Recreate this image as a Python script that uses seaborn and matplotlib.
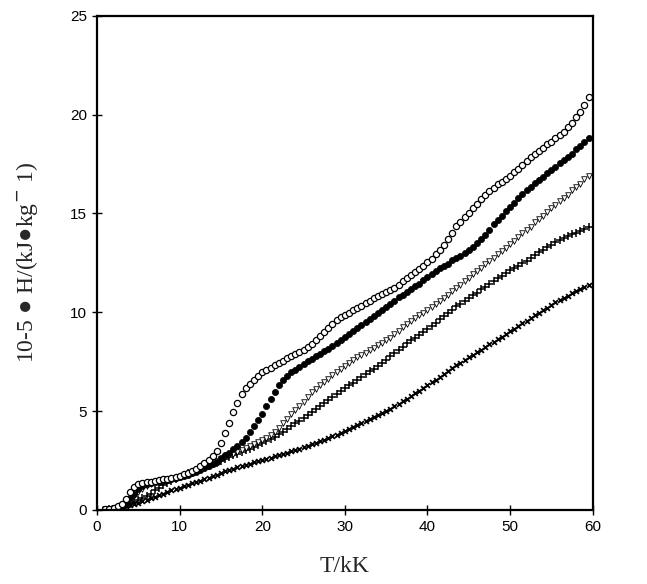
import numpy as np
import pandas as pd
import seaborn as sns
import matplotlib
matplotlib.use('Agg')
import matplotlib.pyplot as plt

# temperature grid (kK), 0.5 kK steps
T = np.arange(1.0, 60.0, 0.5)

# open circles
h_open = [0.03, 0.05, 0.1, 0.2, 0.3, 0.55, 0.9, 1.15, 1.3, 1.35,
          1.4, 1.42, 1.45, 1.5, 1.55, 1.58, 1.62, 1.68, 1.73, 1.8,
          1.88, 1.96, 2.05, 2.2, 2.35, 2.5, 2.7, 3.0, 3.4, 3.9,
          4.4, 4.95, 5.4, 5.85, 6.15, 6.35, 6.55, 6.75, 6.95, 7.1,
          7.2, 7.32, 7.42, 7.55, 7.68, 7.8, 7.9, 8.0, 8.1, 8.25,
          8.4, 8.6, 8.8, 9.0, 9.2, 9.4, 9.6, 9.75, 9.85, 9.95,
          10.1, 10.2, 10.3, 10.45, 10.55, 10.7, 10.8, 10.9, 11.0, 11.13,
          11.25, 11.38, 11.56, 11.73, 11.86, 12.04, 12.21, 12.34, 12.52, 12.69,
          12.92, 13.15, 13.42, 13.7, 14.02, 14.35, 14.58, 14.8, 15.03, 15.26,
          15.48, 15.71, 15.94, 16.11, 16.29, 16.47, 16.59, 16.72, 16.9, 17.07,
          17.25, 17.43, 17.65, 17.83, 18.01, 18.18, 18.31, 18.49, 18.61, 18.79,
          18.96, 19.14, 19.37, 19.59, 19.87, 20.15, 20.47, 20.9]

# filled circles
h_filled = [0.02, 0.04, 0.08, 0.15, 0.25, 0.4, 0.6, 0.8, 1.05, 1.2,
            1.3, 1.35, 1.4, 1.43, 1.46, 1.5, 1.55, 1.6, 1.65, 1.7,
            1.77, 1.85, 1.93, 2.0, 2.1, 2.2, 2.3, 2.42, 2.6, 2.75,
            2.9, 3.1, 3.25, 3.45, 3.65, 3.95, 4.25, 4.55, 4.85, 5.25,
            5.6, 5.95, 6.3, 6.55, 6.75, 6.95, 7.1, 7.25, 7.4, 7.55,
            7.65, 7.8, 7.9, 8.05, 8.15, 8.3, 8.45, 8.6, 8.75, 8.9,
            9.05, 9.2, 9.35, 9.5, 9.65, 9.8, 9.95, 10.1, 10.25, 10.42,
            10.59, 10.75, 10.87, 11.04, 11.15, 11.32, 11.44, 11.61, 11.77, 11.94,
            12.06, 12.23, 12.34, 12.46, 12.63, 12.75, 12.86, 12.98, 13.15, 13.31,
            13.48, 13.7, 13.92, 14.18, 14.45, 14.67, 14.89, 15.1, 15.32, 15.54,
            15.76, 15.97, 16.19, 16.36, 16.52, 16.69, 16.86, 17.03, 17.19, 17.36,
            17.53, 17.7, 17.86, 18.03, 18.25, 18.42, 18.63, 18.8]

# open triangles
h_tri = [0.02, 0.04, 0.07, 0.12, 0.2, 0.32, 0.5, 0.7, 0.9, 1.05,
         1.2, 1.3, 1.4, 1.47, 1.52, 1.55, 1.58, 1.62, 1.67, 1.73,
         1.8, 1.88, 1.95, 2.05, 2.15, 2.25, 2.35, 2.45, 2.55, 2.65,
         2.75, 2.85, 2.95, 3.05, 3.15, 3.25, 3.35, 3.45, 3.55, 3.65,
         3.8, 3.95, 4.15, 4.4, 4.6, 4.85, 5.05, 5.25, 5.45, 5.7,
         5.95, 6.1, 6.3, 6.45, 6.6, 6.8, 6.95, 7.15, 7.3, 7.45,
         7.6, 7.72, 7.85, 7.95, 8.08, 8.2, 8.32, 8.45, 8.58, 8.72,
         8.89, 9.06, 9.23, 9.4, 9.54, 9.69, 9.84, 9.98, 10.12, 10.26,
         10.41, 10.55, 10.72, 10.89, 11.06, 11.23, 11.4, 11.57, 11.74, 11.91,
         12.08, 12.25, 12.42, 12.59, 12.75, 12.92, 13.09, 13.26, 13.43, 13.6,
         13.82, 13.99, 14.16, 14.33, 14.55, 14.72, 14.89, 15.06, 15.28, 15.45,
         15.61, 15.78, 15.95, 16.17, 16.34, 16.51, 16.73, 16.9]

# plus signs
h_plus = [0.01, 0.03, 0.05, 0.08, 0.13, 0.2, 0.3, 0.4, 0.5, 0.6,
          0.7, 0.82, 0.98, 1.12, 1.25, 1.35, 1.45, 1.55, 1.65, 1.75,
          1.85, 1.92, 2.0, 2.08, 2.15, 2.22, 2.3, 2.38, 2.48, 2.57,
          2.65, 2.75, 2.85, 2.93, 3.02, 3.1, 3.18, 3.27, 3.36, 3.47,
          3.58, 3.7, 3.82, 3.95, 4.08, 4.22, 4.37, 4.52, 4.67, 4.82,
          4.97, 5.12, 5.27, 5.42, 5.57, 5.72, 5.87, 6.02, 6.16, 6.3,
          6.43, 6.56, 6.7, 6.85, 7.0, 7.15, 7.3, 7.45, 7.6, 7.76,
          7.93, 8.09, 8.26, 8.42, 8.57, 8.7, 8.84, 8.98, 9.14, 9.31,
          9.47, 9.64, 9.8, 9.96, 10.13, 10.29, 10.44, 10.57, 10.71, 10.85,
          10.99, 11.15, 11.29, 11.44, 11.57, 11.72, 11.85, 11.99, 12.13, 12.24,
          12.36, 12.47, 12.61, 12.75, 12.88, 13.03, 13.14, 13.28, 13.4, 13.54,
          13.65, 13.76, 13.85, 13.94, 14.03, 14.12, 14.21, 14.3]

# lowest curve
h_low = [0.02, 0.04, 0.07, 0.1, 0.15, 0.2, 0.25, 0.3, 0.36, 0.43,
         0.5, 0.58, 0.66, 0.74, 0.82, 0.9, 0.98, 1.05, 1.12, 1.2,
         1.27, 1.34, 1.41, 1.48, 1.55, 1.63, 1.7, 1.78, 1.86, 1.94,
         2.02, 2.09, 2.15, 2.21, 2.27, 2.33, 2.4, 2.46, 2.52, 2.58,
         2.64, 2.7, 2.77, 2.83, 2.9, 2.96, 3.03, 3.1, 3.17, 3.24,
         3.31, 3.38, 3.46, 3.54, 3.63, 3.72, 3.81, 3.9, 4.0, 4.1,
         4.2, 4.3, 4.4, 4.5, 4.6, 4.7, 4.8, 4.9, 5.0, 5.11,
         5.23, 5.36, 5.49, 5.62, 5.76, 5.89, 6.02, 6.16, 6.31, 6.45,
         6.59, 6.73, 6.88, 7.02, 7.16, 7.32, 7.45, 7.58, 7.71, 7.85,
         7.98, 8.11, 8.24, 8.38, 8.51, 8.64, 8.77, 8.91, 9.04, 9.17,
         9.31, 9.44, 9.57, 9.7, 9.84, 9.97, 10.1, 10.23, 10.37, 10.5,
         10.61, 10.72, 10.84, 10.95, 11.06, 11.17, 11.29, 11.4]

x_ticks = [0, 10, 20, 30, 40, 50, 60]
y_ticks = [0, 5, 10, 15, 20, 25]

sns.set_style('ticks')

fig = plt.figure(figsize=(6.47, 5.84), dpi=100)
ax = fig.add_axes([0.150, 0.127, 0.766, 0.846])

# low curve first so the others sit on top
sns.scatterplot(x=T, y=h_low, ax=ax, marker='x', s=12, color='black',
                linewidth=1.3, legend=False)
sns.scatterplot(x=T, y=h_plus, ax=ax, marker='+', s=40, color='black',
                linewidth=1.1, legend=False)
sns.scatterplot(x=T, y=h_tri, ax=ax, marker='v', s=16, facecolor='white',
                edgecolor='black', linewidth=0.6, legend=False)
sns.scatterplot(x=T, y=h_filled, ax=ax, marker='o', s=20, color='black',
                edgecolor='black', linewidth=0.5, legend=False)
sns.scatterplot(x=T, y=h_open, ax=ax, marker='o', s=20, facecolor='white',
                edgecolor='black', linewidth=0.9, legend=False)

ax.set_xlim(0, 60)
ax.set_ylim(0, 25)
ax.set_xticks(x_ticks)
ax.set_yticks(y_ticks)
ax.tick_params(direction='inout', length=7, width=1.0, colors='black',
               labelsize=11)
for lab in ax.get_xticklabels() + ax.get_yticklabels():
    lab.set_family(['Liberation Sans', 'DejaVu Sans'])

for sp in ax.spines.values():
    sp.set_visible(True)
    sp.set_color('black')
    sp.set_linewidth(1.6)

ax.set_xlabel('T/kK', family=['Liberation Serif', 'DejaVu Serif'],
              fontsize=17, labelpad=16)
ax.set_ylabel('10-5 \u25cf H/(kJ\u25cfkg$^{-}$ 1)',
              family=['Liberation Serif', 'DejaVu Serif'],
              fontsize=17, labelpad=22)

fig.savefig('out.png', dpi=100)
